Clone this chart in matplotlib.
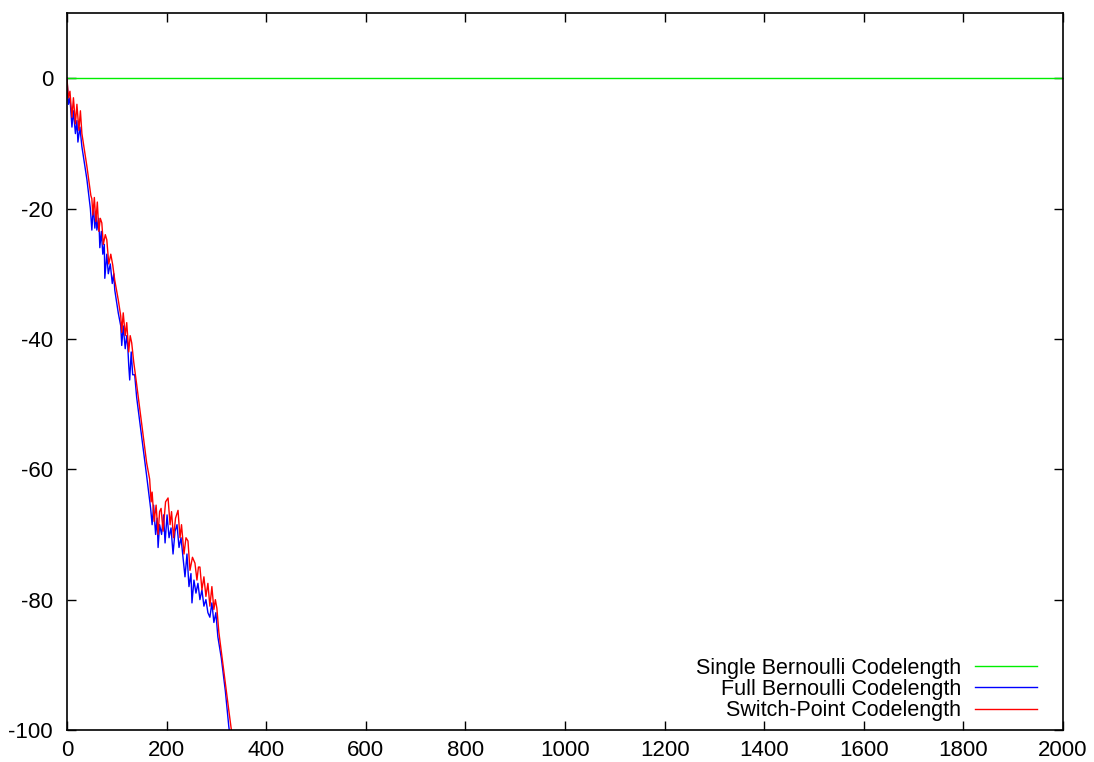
import numpy as np
import matplotlib
matplotlib.use('Agg')
import matplotlib.pyplot as plt

plt.rcParams['font.family'] = ['Liberation Sans', 'DejaVu Sans']
plt.rcParams['axes.unicode_minus'] = False

# codelength differences relative to the single Bernoulli model
single_x = [0, 2000]
single_y = [0, 0]

full_x = [0, 3, 6, 10, 13, 17, 20, 22, 26, 30, 40, 47, 50, 53, 56, 59, 60, 64, 66, 69, 72, 75, 76,
          80, 83, 87, 91, 94, 96, 103, 108, 110, 113, 117, 120, 122, 124, 126, 129, 132, 136, 140,
          150, 160, 168, 171, 174, 178, 181, 183, 186, 190, 194, 197, 201, 205, 209, 213, 217, 221,
          225, 229, 233, 237, 241, 245, 249, 251, 255, 259, 263, 267, 271, 275, 279, 283, 287, 291,
          295, 299, 303, 310, 318, 325, 335]
full_y = [0, -4, -3, -7.5, -5, -8.5, -6.5, -9.8, -7.5, -10.5, -15.5, -20, -23.3, -19.5, -23, -20.5,
          -23.3, -21.5, -26, -23.5, -27, -25.5, -30.7, -27, -30, -28.5, -31.5, -30, -32.5, -36, -38,
          -41, -38, -41.5, -39.5, -41, -44, -46.3, -42, -45.5, -45.5, -49, -55, -61, -66, -68.5,
          -65.5, -70, -67.5, -72, -68.5, -70, -67, -71.3, -67, -70.5, -69, -73, -69.5, -68.5, -72,
          -70.5, -73.5, -76.5, -73, -78, -76, -80.5, -77, -79, -77.5, -80, -78.5, -81, -80, -82,
          -82.7, -80.5, -83.5, -82, -85.7, -89, -94, -99.5, -105]

switch_x = [0, 3, 6, 10, 13, 17, 20, 24, 27, 30, 40, 48, 50, 52, 55, 58, 61, 64, 67, 70, 73, 77, 80,
            84, 88, 92, 96, 103, 108, 110, 113, 117, 120, 124, 127, 130, 134, 140, 150, 160, 166,
            169, 171, 175, 179, 183, 186, 189, 193, 198, 203, 207, 210, 214, 218, 223, 227, 230,
            235, 239, 243, 247, 252, 257, 261, 264, 267, 271, 275, 279, 283, 287, 291, 295, 298,
            301, 305, 315, 325, 331, 340]
switch_y = [0, -3, -2, -6, -3, -7, -4, -8, -5, -8.5, -13.5, -18, -18.5, -21, -18.3, -22, -19, -23.5,
            -21.5, -22.2, -25.5, -24, -24.8, -28.5, -27, -28.7, -31, -34, -36.5, -39, -36, -39.5,
            -37.5, -42, -39.5, -40.6, -43.5, -47, -53, -59, -61.5, -65, -63.5, -68, -65.5, -70,
            -66.5, -66, -69.5, -65, -64.4, -68.5, -66.5, -70.5, -67.5, -66.3, -70.5, -68.5, -73,
            -70.5, -71, -75.5, -73.5, -74.4, -77, -75, -75, -78.5, -76.5, -79.5, -77.5, -81, -78,
            -81.5, -80, -81.3, -85, -91, -97, -100.5, -106]

fig = plt.figure(figsize=(10.94, 7.62), dpi=100)
ax = fig.add_axes([0.0612, 0.042, 0.9105, 0.9409])

ax.plot(single_x, single_y, color='#00ee00', linewidth=1.0, label='Single Bernoulli Codelength')
ax.plot(full_x, full_y, color='#0000ff', linewidth=1.0, label='Full Bernoulli Codelength')
ax.plot(switch_x, switch_y, color='#ff0000', linewidth=1.0, label='Switch-Point Codelength')

ax.set_xlim(0, 2000)
ax.set_ylim(-100, 10)
ax.set_xticks(np.arange(0, 2001, 200))
ax.set_yticks(np.arange(-100, 1, 20))
ax.tick_params(direction='in', length=6.5, width=1.0, top=True, right=True,
               labelsize=16, pad=10)
ax.tick_params(axis='x', pad=7)
for s in ax.spines.values():
    s.set_linewidth(1.2)

leg = ax.legend(loc='lower right', bbox_to_anchor=(0.9827, 0.0), frameon=False,
                markerfirst=False, fontsize=15.5, handlelength=2.9, labelspacing=0.02,
                borderaxespad=0.0, handletextpad=0.65)

fig.savefig('out.png', dpi=100)
